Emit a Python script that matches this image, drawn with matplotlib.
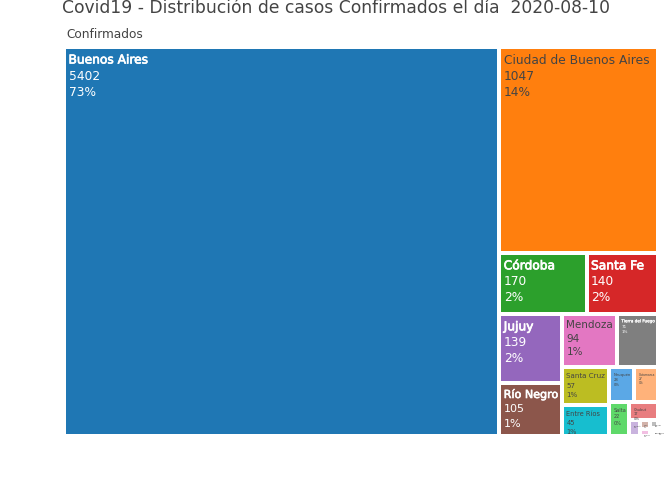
import matplotlib
matplotlib.use("Agg")
import matplotlib.pyplot as plt
import matplotlib.patheffects as pe

names = ["Buenos Aires", "Ciudad de Buenos Aires", "Córdoba", "Santa Fe", "Jujuy", "Río Negro",
         "Mendoza", "Tierra del Fuego", "Santa Cruz", "Entre Ríos", "Neuquén", "Catamarca",
         "Salta", "Chubut", "Tucumán", "Chaco", "La Rioja", "San Luis", "Corrientes", "Misiones"]
values = [5402, 1047, 170, 140, 139, 105, 94, 71, 57, 45, 28, 27, 22, 17, 5, 3, 2, 2, 1, 1]
percents = ["73%", "14%", "2%", "2%", "2%", "1%", "1%", "1%", "1%", "1%", "0%", "0%", "0%", "0%",
            "0%", "0%", "0%", "0%", "0%", "0%"]
colors = ["#1f77b4", "#ff7f0e", "#2ca02c", "#d62728", "#9467bd", "#8c564b", "#e377c2", "#7f7f7f",
          "#bcbd22", "#17becf", "#5ba8e6", "#ffb27a", "#5fd96a", "#e87d7f", "#c9b3de", "#d3b3aa",
          "#f2bfe2", "#bdbdbd", "#e3e46c", "#8fe5ee"]
light_text = [True, False, True, True, True, True, False, True, False, False,
              False, False, False, False, False, False, False, False, False, False]

title = "Covid19 - Distribución de casos Confirmados el día  2020-08-10"
path_label = "Confirmados"
TEXT = "#444444"
RATIO = 1.0
GAP = 4.0


def squarify(vals, x0, y0, x1, y1):
    """d3-hierarchy squarify tiling; returns rectangles in the same order as vals."""
    out = []
    i, n = 0, len(vals)
    remaining = float(sum(vals))
    while i < n:
        dx, dy = x1 - x0, y1 - y0
        j = i
        sum_v = vals[j]
        j += 1
        min_v = max_v = sum_v
        alpha = max(dy / dx, dx / dy) / (remaining * RATIO)
        beta = sum_v * sum_v * alpha
        min_ratio = max(max_v / beta, beta / min_v)
        while j < n:
            v = vals[j]
            new_sum = sum_v + v
            mn, mx = min(min_v, v), max(max_v, v)
            beta = new_sum * new_sum * alpha
            ratio = max(mx / beta, beta / mn)
            if ratio > min_ratio:
                break
            sum_v, min_v, max_v, min_ratio = new_sum, mn, mx, ratio
            j += 1
        row = vals[i:j]
        if dx < dy:
            yb = y1 if j == n else y0 + dy * sum_v / remaining
            xc = x0
            for v in row:
                xn = xc + (x1 - x0) * v / sum_v
                out.append((xc, y0, xn, yb))
                xc = xn
            y0 = yb
        else:
            xb = x1 if j == n else x0 + dx * sum_v / remaining
            yc = y0
            for v in row:
                yn = yc + (y1 - y0) * v / sum_v
                out.append((x0, yc, xb, yn))
                yc = yn
            x0 = xb
        remaining -= sum_v
        i = j
    return out


fig = plt.figure(figsize=(6.72, 4.80), dpi=100)
ax = fig.add_axes([0, 0, 1, 1])
ax.set_xlim(0, 672)
ax.set_ylim(480, 0)
ax.axis("off")
plt.rcParams["font.family"] = "DejaVu Sans"

rects = squarify(values, 66 - GAP / 2, 49 - GAP / 2, 656.4 + GAP / 2, 433.5 + GAP / 2)
renderer = fig.canvas.get_renderer()
LS = 1.82
for (x0, y0, x1, y1), name, val, pct, col, light in zip(rects, names, values, percents, colors, light_text):
    x0, y0, x1, y1 = x0 + GAP / 2, y0 + GAP / 2, x1 - GAP / 2, y1 - GAP / 2
    ax.bar(x0, y1 - y0, width=x1 - x0, bottom=y0, align="edge", color=col, edgecolor="none")
    tc = "white" if light else TEXT
    fs = 8.8
    lines = [name, str(val), pct]
    ts = [ax.text(x0 + 2.5, y0 + 4 + k * LS * fs, s, fontsize=fs, color=tc, va="top", ha="left")
          for k, s in enumerate(lines)]
    w = max(t.get_window_extent(renderer).width for t in ts)
    avail = max(x1 - x0 - 4, 1)
    scale = min(1.0, avail / w, (y1 - y0) / (3 * LS * fs))
    for k, t in enumerate(ts):
        t.set_fontsize(fs * scale)
        t.set_y(y0 + 3 + 1.5 * scale + k * LS * fs * scale)
    if light:
        ts[0].set_path_effects([pe.withStroke(linewidth=0.5 * scale, foreground="white")])

ax.text(336, 8, title, fontsize=12.36, color=TEXT, ha="center", va="center")
ax.text(66, 35, path_label, fontsize=8.7, color=TEXT, ha="left", va="center")
fig.savefig("out.png", dpi=100, facecolor="white")
